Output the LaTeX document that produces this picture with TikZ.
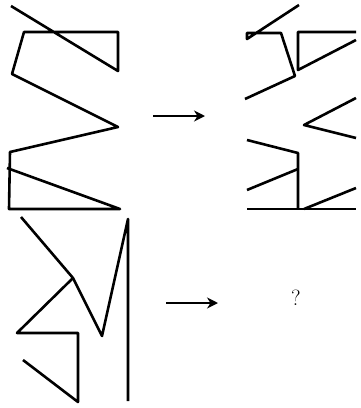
\documentclass[tikz,border=0pt]{standalone}
\usepackage{tikz}
\usetikzlibrary{arrows.meta}

\begin{document}
\begin{tikzpicture}[x=1pt,y=-1pt,>={Stealth[length=11pt,width=11pt]},line join=round]
    \useasboundingbox (0,0) rectangle (360,408);
    \tikzset{fig/.style={line width=2.6pt,black}}
    % given figure 1
    \draw[fig] (11,6) -- (118,71) -- (118,32) -- (24,32) -- (12,74) -- (118,127)
        -- (10,152) -- (9,209) -- (120,209) -- (7,168);
    % arrow 1
    \draw[->,line width=2.2pt] (153,116) -- (205,116);
    % result figure 1
    \draw[fig] (299,5) -- (247,39) -- (247,33) -- (281,33) -- (295,76) -- (245,99);
    \draw[fig] (356,32) -- (298,32) -- (298,70) -- (356,40);
    \draw[fig] (356,98) -- (304,125) -- (356,138);
    \draw[fig] (247,140) -- (298,153) -- (298,209);
    \draw[fig] (247,190) -- (298,169);
    \draw[fig] (247,209) -- (356,209);
    \draw[fig] (304,209) -- (356,188);

    % given figure 2
    \draw[fig] (21,217) -- (73,278) -- (102,336) -- (128,219) -- (128,401);
    \draw[fig] (73,278) -- (17,333) -- (78,333) -- (78,402) -- (23,360);
    % arrow 2
    \draw[->,line width=2.2pt] (166,303) -- (218,303);
    \node[font=\fontsize{22}{26}\selectfont] (ask) at (296,298) {?};
\end{tikzpicture}
\end{document}
